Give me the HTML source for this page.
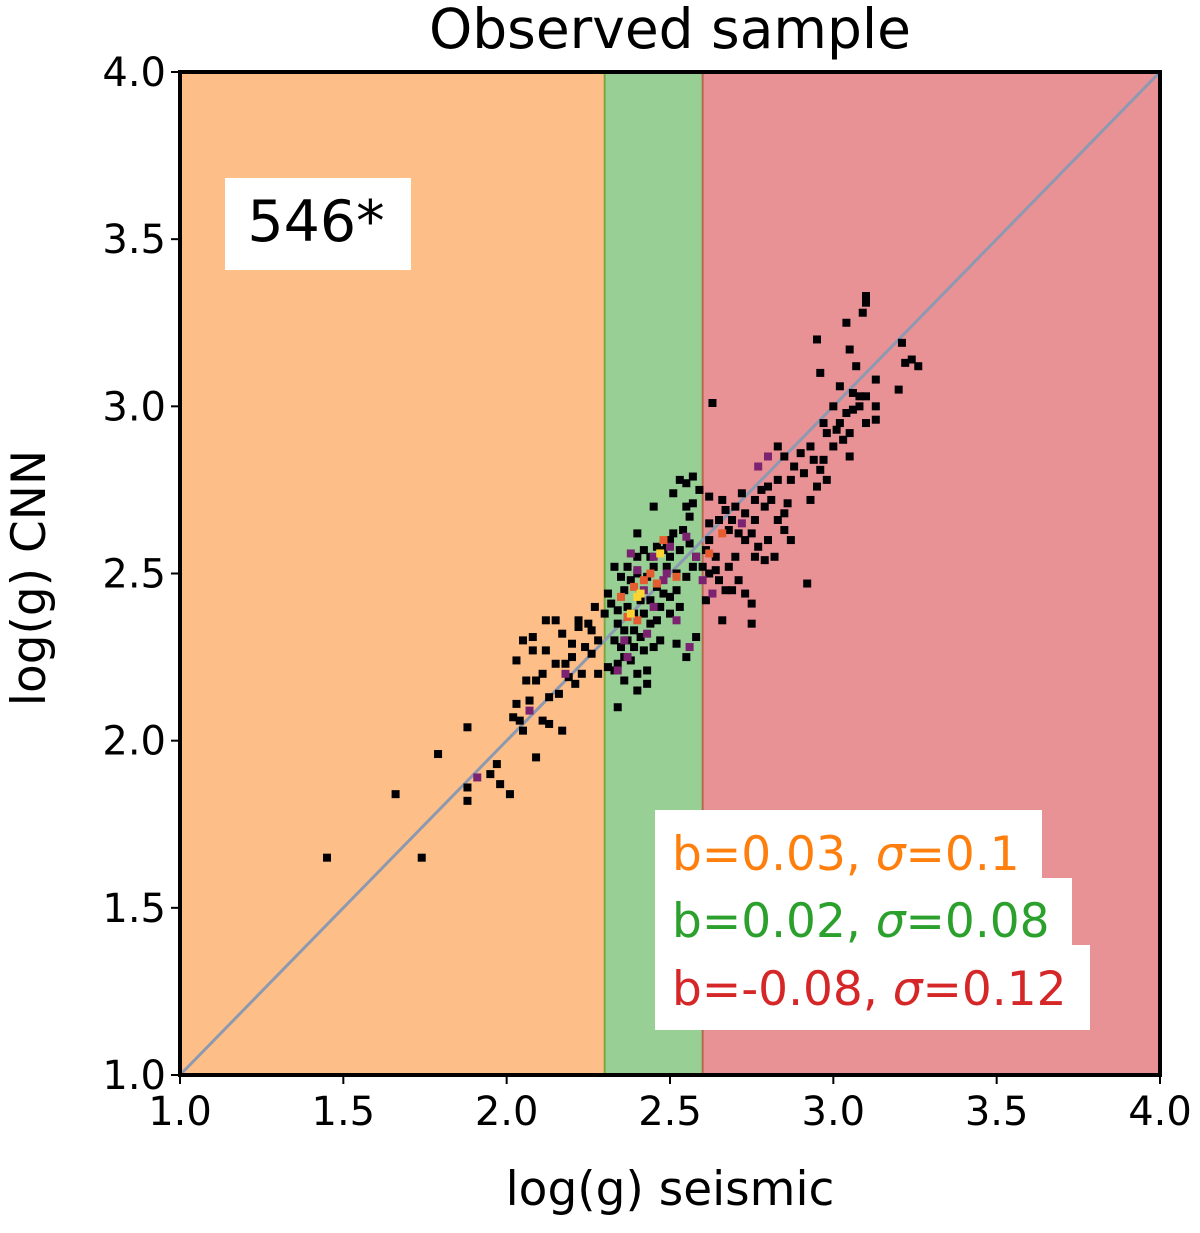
<!DOCTYPE html>
<html><head><meta charset="utf-8"><style>
html,body{margin:0;padding:0;background:#fff;}
svg text{font-family:"DejaVu Sans","Liberation Sans",sans-serif;}
</style></head><body>
<svg id="chart" width="1200" height="1228" viewBox="0 0 1200 1228">
<g id="plot"></g>
</svg>
<script>
const xTicks=[1.0,1.5,2.0,2.5,3.0,3.5,4.0];
const yTicks=[1.0,1.5,2.0,2.5,3.0,3.5,4.0];
const bandEdges=[1.0,2.3,2.6,4.0];
const bandColors=["#fdbf87","#97cf95","#e99296"];
const xs=[1.45,1.74,1.66,1.79,1.88,1.88,1.88,1.95,1.98,2.01,1.97,2.05,2.09,2.02,2.04,2.07,2.11,2.13,2.17,2.03,2.06,2.03,2.09,2.11,2.13,2.16,2.12,2.05,2.08,2.08,2.19,2.15,2.20,2.17,2.15,2.22,2.12,2.20,2.23,2.28,2.26,2.24,2.22,2.26,2.18,2.21,2.28,2.25,2.27,
3.10,3.10,3.09,3.04,2.95,2.96,3.05,3.07,3.13,3.21,3.24,3.26,3.22,3.20,3.02,3.06,3.08,3.10,3.08,3.06,3.04,3.13,3.13,3.10,3.00,3.02,2.97,2.93,3.03,2.98,3.01,3.05,3.00,2.97,2.96,2.94,3.05,2.90,2.88,2.87,2.91,2.95,2.93,2.98,2.83,2.85,2.83,2.80,2.78,2.76,2.81,2.79,2.86,2.85,2.83,2.76,2.72,2.70,2.73,2.69,2.66,2.62,2.67,2.65,2.62,2.68,2.71,2.73,2.75,2.77,2.80,2.87,2.85,2.82,2.79,2.76,2.92,2.70,2.68,2.71,2.69,2.73,2.75,2.64,2.62,2.61,2.64,2.65,2.62,2.63,2.61,2.75,2.66,2.67,
2.57,2.55,2.53,2.59,2.57,2.55,2.56,2.51,2.45,2.40,2.51,2.50,2.54,2.56,2.53,2.58,2.60,2.57,2.49,2.46,2.44,2.48,2.50,2.45,2.49,2.52,2.55,2.42,2.40,2.37,2.33,2.35,2.38,2.40,2.43,2.46,2.48,2.50,2.52,2.44,2.41,2.36,2.31,2.32,2.34,2.37,2.39,2.42,2.44,2.46,2.50,2.53,2.47,2.30,2.34,2.36,2.39,2.41,2.37,2.33,2.35,2.39,2.42,2.36,2.34,2.38,2.43,2.40,2.31,2.33,2.36,2.40,2.43,2.34,2.47,2.52,2.58,2.45,2.55,
1.91,2.07,2.18,2.40,2.45,2.42,2.55,2.58,2.48,2.45,2.37,2.36,2.34,2.52,2.56,2.77,2.80,2.72,2.60,2.63,2.38,2.50,2.43,2.49,
2.44,2.42,2.46,2.39,2.35,2.40,2.52,2.62,2.66,2.48,2.37,
2.40,2.38,2.47,2.41];
const ys=[1.65,1.65,1.84,1.96,2.04,1.82,1.86,1.90,1.87,1.84,1.93,2.03,1.95,2.07,2.06,2.12,2.06,2.05,2.03,2.11,2.18,2.24,2.18,2.20,2.13,2.14,2.27,2.30,2.31,2.27,2.19,2.23,2.25,2.32,2.36,2.34,2.36,2.29,2.20,2.30,2.26,2.28,2.36,2.33,2.23,2.17,2.20,2.35,2.40,
3.33,3.31,3.28,3.25,3.20,3.10,3.17,3.12,3.08,3.19,3.14,3.12,3.13,3.05,3.06,3.04,3.03,3.03,3.00,2.99,2.98,3.00,2.96,2.95,3.00,2.95,2.95,2.88,2.90,2.92,2.93,2.92,2.88,2.84,2.81,2.84,2.85,2.86,2.82,2.78,2.80,2.76,2.72,2.78,2.88,2.85,2.78,2.76,2.75,2.72,2.72,2.70,2.71,2.68,2.66,2.66,2.74,2.70,2.68,2.66,2.72,2.73,2.69,2.66,2.65,2.63,2.62,2.60,2.62,2.58,2.60,2.60,2.63,2.55,2.54,2.55,2.47,2.55,2.52,2.48,2.45,2.44,2.41,2.55,2.60,2.57,2.51,2.48,2.50,3.01,2.42,2.35,2.36,2.45,
2.79,2.77,2.78,2.75,2.71,2.70,2.67,2.74,2.70,2.62,2.62,2.60,2.63,2.59,2.57,2.55,2.52,2.52,2.59,2.58,2.55,2.57,2.55,2.52,2.52,2.50,2.49,2.57,2.55,2.52,2.52,2.49,2.48,2.50,2.49,2.46,2.44,2.43,2.45,2.42,2.42,2.45,2.44,2.41,2.39,2.40,2.38,2.38,2.35,2.36,2.38,2.40,2.40,2.38,2.35,2.33,2.33,2.31,2.30,2.30,2.28,2.28,2.27,2.25,2.23,2.24,2.21,2.20,2.22,2.21,2.18,2.15,2.17,2.10,2.30,2.29,2.31,2.28,2.25,
1.89,2.09,2.20,2.51,2.55,2.45,2.61,2.55,2.48,2.40,2.25,2.30,2.21,2.36,2.28,2.82,2.85,2.65,2.48,2.44,2.56,2.58,2.32,2.50,
2.50,2.48,2.47,2.46,2.43,2.36,2.49,2.56,2.62,2.60,2.37,
2.43,2.38,2.56,2.44];
const counts=[];
for(let i=0;i<xs.length;i++){counts.push(i<xs.length-39?1:(i<xs.length-15?2:(i<xs.length-4?3:5)));}
const cmap={1:"#000004",2:"#7b2270",3:"#e55c30",4:"#f98e09",5:"#fbd434"};

const X0=180,X1=1160,Y0=1075,Y1=72;
const sx=v=>X0+(v-1)/3*(X1-X0);
const sy=v=>Y0-(v-1)/3*(Y0-Y1);
const NS="http://www.w3.org/2000/svg";
const g=document.getElementById('plot');
function mk(t,a,parent){const e=document.createElementNS(NS,t);for(const k in a)e.setAttribute(k,a[k]);(parent||g).appendChild(e);return e;}

for(let i=0;i<3;i++){
  const r=mk('rect',{x:sx(bandEdges[i]),y:Y1,width:sx(bandEdges[i+1])-sx(bandEdges[i]),height:Y0-Y1,fill:bandColors[i]});
  
  
}
const e1=mk('line',{x1:sx(2.3),x2:sx(2.3),y1:Y1,y2:Y0,stroke:"#7aa83e","stroke-width":2});


const e2=mk('line',{x1:sx(2.6),x2:sx(2.6),y1:Y1,y2:Y0,stroke:"#b8684f","stroke-width":2});



const diag=mk('line',{x1:sx(1),y1:sy(1),x2:sx(4),y2:sy(4),stroke:"#8c99b0","stroke-width":3});



for(let i=0;i<xs.length;i++){
  const p=mk('rect',{x:sx(xs[i])-4,y:sy(ys[i])-4,width:8,height:8,fill:cmap[counts[i]]});
  
  
}

const b1=mk('rect',{x:225,y:178,width:186,height:92,fill:"#fff"});


const t1=mk('text',{x:316,y:241,"font-size":57,"text-anchor":"middle",fill:"#000"});t1.textContent="546*";



const stats=[["b=0.03, ","0.1","#ff7f0e",1042,810,878,870],["b=0.02, ","0.08","#2ca02c",1072,878,945,937],["b=-0.08, ","0.12","#d62728",1090,945,1030,1005]];
stats.forEach((s,i)=>{
  const r=mk('rect',{x:655,y:s[4],width:s[3]-655,height:s[5]-s[4],fill:"#fff"});
  
  
  const t=mk('text',{x:672,y:s[6],"font-size":47,fill:s[2]});
  
  
  const a=document.createElementNS(NS,'tspan');a.textContent=s[0];t.appendChild(a);
  const b=document.createElementNS(NS,'tspan');b.setAttribute('font-style','italic');b.textContent="σ";t.appendChild(b);
  const c=document.createElementNS(NS,'tspan');c.textContent="="+s[1];t.appendChild(c);
});

const frame=mk('rect',{x:X0,y:Y1,width:X1-X0,height:Y0-Y1,fill:"none",stroke:"#000","stroke-width":4});



xTicks.forEach(v=>{
  const l=mk('line',{x1:sx(v),x2:sx(v),y1:Y0,y2:Y0+9,stroke:"#000","stroke-width":2});
  
  
  const t=mk('text',{x:sx(v),y:Y0+50,"font-size":40,"text-anchor":"middle",fill:"#000"});t.textContent=v.toFixed(1);
  
  
});
yTicks.forEach(v=>{
  const l=mk('line',{x1:X0-9,x2:X0,y1:sy(v),y2:sy(v),stroke:"#000","stroke-width":2});
  
  
  const t=mk('text',{x:X0-14,y:sy(v)+14,"font-size":40,"text-anchor":"end",fill:"#000"});t.textContent=v.toFixed(1);
  
  
});
const xt=mk('text',{x:670,y:1205,"font-size":47,"text-anchor":"middle",fill:"#000"});xt.textContent="log(g) seismic";


const yt=mk('text',{x:0,y:0,"font-size":47,"text-anchor":"middle",fill:"#000",transform:"translate(45,578) rotate(-90)"});yt.textContent="log(g) CNN";


const tt=mk('text',{x:670,y:48,"font-size":55,"text-anchor":"middle",fill:"#000"});tt.textContent="Observed sample";


</script>
</body></html>
